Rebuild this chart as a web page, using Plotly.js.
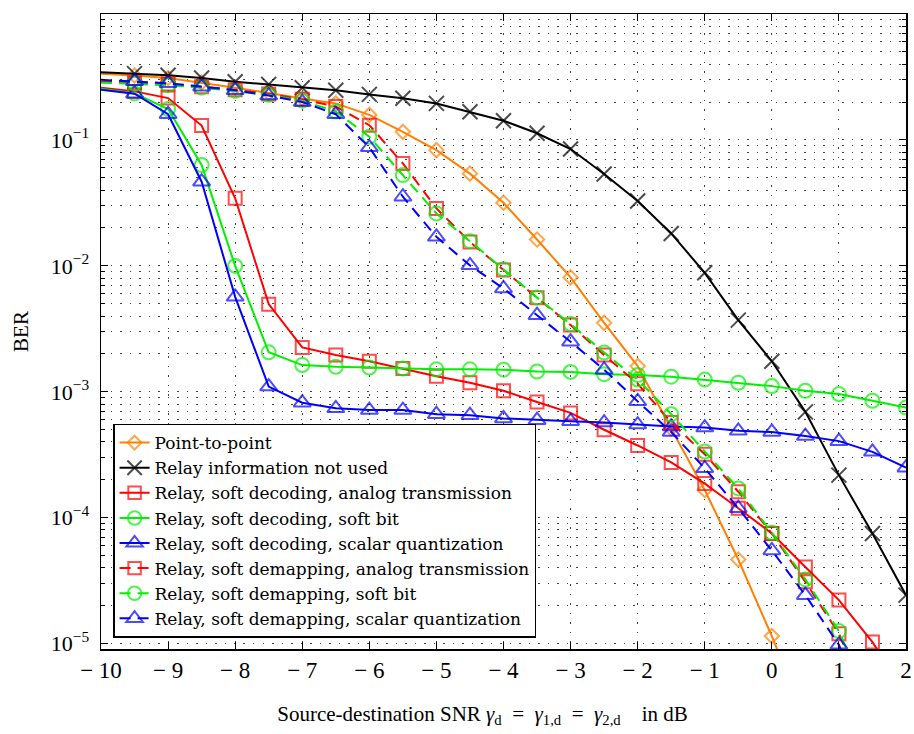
<!DOCTYPE html>
<html>
<head>
<meta charset="utf-8">
<script src="https://cdn.plot.ly/plotly-3.0.1.min.js"></script>
<style>html,body{margin:0;padding:0;background:#fff;}</style>
</head>
<body>
<div id="chart" style="width:914px;height:734px;"></div>
<script>
// SNR values in dB
const snr = [-10,-9.5,-9,-8.5,-8,-7.5,-7,-6.5,-6,-5.5,-5,-4.5,-4,-3.5,-3,-2.5,-2,-1.5,-1,-0.5,0,0.5,1,1.5,2];

// BER series
const pointToPoint = [0.335,0.325,0.31,0.285,0.26,0.236,0.213,0.195,0.158,0.116,0.083,0.054,0.0317,0.0162,0.0081,0.00353,0.0016,0.00051,1.66e-4,4.66e-5,1.15e-5,2.5e-6,null,null,null];
const relayNotUsed = [0.345,0.336,0.326,0.31,0.29,0.276,0.26,0.248,0.23,0.214,0.195,0.1675,0.142,0.113,0.0847,0.0536,0.0327,0.0181,0.00881,0.00371,0.00175,6.93e-4,2.18e-4,7.5e-5,2.43e-5];
const sdAnalog = [0.26,0.243,0.215,0.13,0.0344,4.97e-3,2.25e-3,1.96e-3,1.75e-3,1.53e-3,1.33e-3,1.18e-3,1.02e-3,8.3e-4,6.8e-4,5.0e-4,3.75e-4,2.75e-4,1.87e-4,1.19e-4,7.5e-5,4.07e-5,2.22e-5,1.03e-5,4e-6];
const sdSoftBit = [0.255,0.234,0.176,0.0632,0.0100,2.06e-3,1.63e-3,1.58e-3,1.56e-3,1.53e-3,1.51e-3,1.51e-3,1.5e-3,1.45e-3,1.44e-3,1.38e-3,1.36e-3,1.32e-3,1.25e-3,1.18e-3,1.11e-3,1.02e-3,9.6e-4,8.5e-4,7.5e-4];
const sdScalar = [0.25,0.233,0.16,0.0466,5.68e-3,1.10e-3,8.2e-4,7.4e-4,7.16e-4,7.16e-4,6.65e-4,6.53e-4,6.15e-4,5.96e-4,5.85e-4,5.7e-4,5.5e-4,5.3e-4,5.2e-4,4.9e-4,4.8e-4,4.45e-4,4.06e-4,3.34e-4,2.5e-4];
const dmAnalog = [0.29,0.285,0.278,0.265,0.25,0.232,0.21,0.184,0.131,0.0651,0.0286,0.0155,9.27e-3,5.58e-3,3.39e-3,1.96e-3,1.16e-3,5.7e-4,3.2e-4,1.61e-4,7.5e-5,3.1e-5,1.2e-5,3e-6,null];
const dmSoftBit = [0.285,0.28,0.272,0.26,0.245,0.228,0.205,0.168,0.106,0.0526,0.0261,0.0157,9.4e-3,5.6e-3,3.45e-3,2.05e-3,1.25e-3,6.65e-4,3.36e-4,1.71e-4,7.6e-5,3.24e-5,1.26e-5,3e-6,null];
const dmScalar = [0.3,0.292,0.282,0.265,0.248,0.225,0.2,0.16,0.0873,0.0354,0.017,0.0101,6.62e-3,4.06e-3,2.5e-3,1.5e-3,8.4e-4,4.8e-4,2.47e-4,1.19e-4,5.5e-5,2.43e-5,9.8e-6,2e-6,null];

const seriesNames = [
  "Point-to-point",
  "Relay information not used",
  "Relay, soft decoding, analog transmission",
  "Relay, soft decoding, soft bit",
  "Relay, soft decoding, scalar quantization",
  "Relay, soft demapping, analog transmission",
  "Relay, soft demapping, soft bit",
  "Relay, soft demapping, scalar quantization"
];

// axis ticks
const xTickVals = [-10,-9,-8,-7,-6,-5,-4,-3,-2,-1,0,1,2];
const xTickText = ["\u2212 10","\u2212 9","\u2212 8","\u2212 7","\u2212 6","\u2212 5","\u2212 4","\u2212 3","\u2212 2","\u2212 1","0","1","2"];
const yTickVals = [1e-5,1e-4,1e-3,1e-2,1e-1,1];
const yTickText = ["10<sup>\u22125</sup>","10<sup>\u22124</sup>","10<sup>\u22123</sup>","10<sup>\u22122</sup>","10<sup>\u22121</sup>","10<sup>0</sup>"];

const yMinorVals = [];
for (let d = -5; d < 0; d++) for (let m = 2; m <= 9; m++) yMinorVals.push(m * Math.pow(10, d));

const styles = [
  {color:'#ff8000', symbol:'diamond-open', size:11, dash:'solid'},
  {color:'#000000', symbol:'x-thin-open', size:15, dash:'solid'},
  {color:'#ff0000', symbol:'square-open', size:13, dash:'solid'},
  {color:'#00f000', symbol:'circle-open', size:14, dash:'solid'},
  {color:'#0000ff', symbol:'triangle-up-open', size:15, dash:'solid'},
  {color:'#ff0000', symbol:'square-open', size:13, dash:'11px,7px'},
  {color:'#00f000', symbol:'circle-open', size:14, dash:'11px,7px'},
  {color:'#0000ff', symbol:'triangle-up-open', size:15, dash:'11px,7px'}
];
const allSeries = [pointToPoint, relayNotUsed, sdAnalog, sdSoftBit, sdScalar, dmAnalog, dmSoftBit, dmScalar];

const traces = allSeries.map((ys, i) => {
  const s = styles[i];
  return {
    x: snr, y: ys, name: seriesNames[i], type:'scatter', mode:'lines+markers',
    line:{color:s.color, width:2, dash:s.dash},
    marker:{symbol:s.symbol, size: snr.map(v => v === -10 ? 0 : s.size), color:s.color,
            line:{color:s.color, width:2}},
    connectgaps:false
  };
});

const fontFam = '"Liberation Serif", "Times New Roman", serif';
const legendFam = '"DejaVu Serif", serif';
const gridDash = '1.5px,8px';
const gridCol = 'rgba(0,0,0,0.75)';

const layout = {
  width:914, height:734,
  margin:{l:101, r:8, t:14, b:85},
  paper_bgcolor:'#fff', plot_bgcolor:'#fff',
  font:{family:fontFam, size:20, color:'#000'},
  showlegend:true,
  legend:{x:0.015, y:0.018, xanchor:'left', yanchor:'bottom',
          bgcolor:'#fff', bordercolor:'#000', borderwidth:1.5,
          font:{family:legendFam, size:17, color:'#000'}, tracegroupgap:0},
  xaxis:{
    range:[-10,2], tickmode:'array', tickvals:xTickVals, ticktext:xTickText,
    ticks:'inside', ticklen:7, tickwidth:1, tickcolor:'#000',
    showline:true, linecolor:'#000', linewidth:1.5, mirror:'ticks',
    showgrid:true, gridcolor:gridCol, griddash:gridDash, gridwidth:1,
    zeroline:false, tickfont:{family:fontFam, size:23},
    title:{text:'Source-destination SNR <i>\u03b3</i><sub>d</sub>\u2002=\u2002<i>\u03b3</i><sub>1,d</sub>\u2002=\u2002<i>\u03b3</i><sub>2,d</sub>\u2003in dB\u2003\u2003\u200b',
           font:{family:fontFam, size:21}, standoff:24}
  },
  yaxis:{
    type:'log', range:[-5.042, 0], tickmode:'array', tickvals:yTickVals, ticktext:yTickText,
    ticks:'inside', ticklen:7, tickwidth:1, tickcolor:'#000',
    showline:true, linecolor:'#000', linewidth:1.5, mirror:'ticks',
    showgrid:true, gridcolor:gridCol, griddash:gridDash, gridwidth:1,
    zeroline:false, tickfont:{family:fontFam, size:22},
    ticklabelstandoff:6,
    minor:{tickmode:'array', tickvals:yMinorVals, ticks:'inside', ticklen:4, tickcolor:'#000',
           showgrid:true, gridcolor:gridCol, griddash:gridDash, gridwidth:1},
    title:{text:'BER', font:{family:fontFam, size:21}, standoff:16}
  }
};

Plotly.newPlot('chart', traces, layout, {displayModeBar:false, staticPlot:true});
</script>
</body>
</html>
